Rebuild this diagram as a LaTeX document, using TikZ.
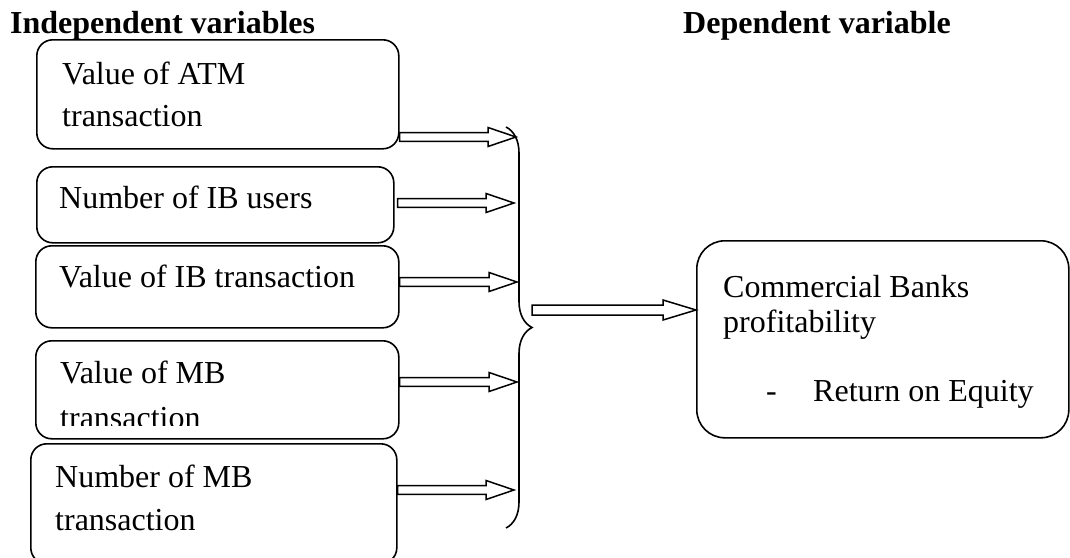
\documentclass[tikz,border=0pt]{standalone}
\usepackage{fontspec}
\setmainfont{Liberation Serif}
\usetikzlibrary{calc,decorations.pathreplacing}

\tikzset{
  varbox/.style={draw, line width=1.6pt, rounded corners=16pt, anchor=north west, inner sep=0pt},
  lbl/.style={anchor=base west, inner sep=0pt, font=\fontsize{32}{37}\selectfont},
  head/.style={lbl, font=\fontsize{32}{37}\selectfont\bfseries},
  fatarrow/.style={draw, fill=white, line width=1.5pt, line join=miter},
}

% hollow block arrow from #1 to #2 (same height), shaft half width #3, head half width #4, head length #5
\newcommand\hollowarrow[5]{%
  \draw[fatarrow] let \p1=(#1), \p2=(#2) in
    (\x1,\y1+#3) -- (\x2-#5,\y1+#3) -- (\x2-#5,\y1+#4) -- (\x2,\y1)
    -- (\x2-#5,\y1-#4) -- (\x2-#5,\y1-#3) -- (\x1,\y1-#3) -- cycle;}

\begin{document}
\begin{tikzpicture}[x=1pt,y=-1pt]
  \clip (0,0) rectangle (1070,557);
  \fill[white] (0,0) rectangle (1070,557);

  % column headings
  \node[head] (hind) at (10,33) {Independent variables};
  \node[head] (hdep) at (683,33) {Dependent variable};

  % independent variable boxes
  \node[varbox, minimum width=362pt, minimum height=109pt] (b1) at (36,39) {};
  \node[varbox, minimum width=357pt, minimum height=76pt]  (b2) at (36,166) {};
  \node[varbox, minimum width=363pt, minimum height=82pt]  (b3) at (35,245) {};
  \node[varbox, minimum width=363pt, minimum height=98pt]  (b4) at (35,340) {};
  \node[varbox, minimum width=366pt, minimum height=120pt] (b5) at (30,443) {};

  \node[lbl] (t1a) at (62,84)  {Value of ATM};
  \node[lbl] (t1b) at (62,126) {transaction};
  \node[lbl] (t2)  at (59,208) {Number of IB users};
  \node[lbl] (t3)  at (59,287) {Value of IB transaction};
  \node[lbl] (t4a) at (60,383) {Value of MB};
  \begin{scope}
    % the second line of this box is cut off at the bottom
    \clip (35,395) rectangle (398,425);
    \node[lbl] (t4b) at (60,428) {transaction};
  \end{scope}
  \node[lbl] (t5a) at (55,487) {Number of MB};
  \node[lbl] (t5b) at (55,530) {transaction};

  % dependent variable box
  \node[varbox, rounded corners=28pt, minimum width=372pt, minimum height=197pt] (dv) at (696,240) {};
  \node[lbl] (dva) at (723,297) {Commercial Banks};
  \node[lbl] (dvb) at (723,332) {profitability};
  \node[lbl] (dvc) at (766,401) {-};
  \node[lbl] (dvd) at (813,401) {Return on Equity};

  % brace gathering the independent variables
  \draw[line width=1.6pt, decorate, decoration={brace, amplitude=26pt}]
    (506,127) -- (506,528);

  % arrow start and end points
  \coordinate (s1) at (b1.east |- 0,137);
  \coordinate (s2) at ([xshift=3pt]b2.east |- 0,203);
  \coordinate (s3) at (b3.east |- 0,282);
  \coordinate (s4) at (b4.east |- 0,382);
  \coordinate (s5) at (b5.east |- 0,490);
  \coordinate (e1) at (516,137);
  \coordinate (e2) at (514,203);
  \coordinate (e3) at (517,282);
  \coordinate (e4) at (517,382);
  \coordinate (e5) at (514,490);
  \coordinate (bt) at (532,310);

  \foreach \i in {1,...,5}{\hollowarrow{s\i}{e\i}{4.3pt}{9.5pt}{28pt}}
  \hollowarrow{bt}{dv.west |- bt}{5pt}{10pt}{33pt}
\end{tikzpicture}
\end{document}
